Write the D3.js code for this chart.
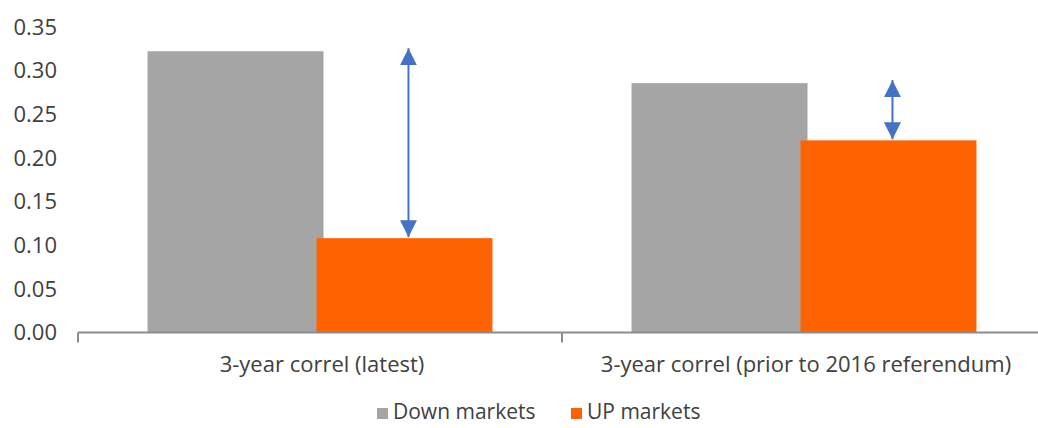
<!DOCTYPE html>
<html><head><meta charset="utf-8">
<script src="https://cdn.jsdelivr.net/npm/d3@7"></script>
<style>
html,body{margin:0;padding:0;background:#fff;}
svg{display:block;}
text{font-family:"Open Sans", sans-serif;fill:#404040;}
</style></head>
<body>
<svg id="chart" width="1038" height="428"></svg>
<script>
const categories = ["3-year correl (latest)", "3-year correl (prior to 2016 referendum)"];
const seriesNames = ["Down markets", "UP markets"];
const downValues = [0.322, 0.2855];
const upValues = [0.108, 0.220];
const yTicks = [0, 0.05, 0.10, 0.15, 0.20, 0.25, 0.30, 0.35];
const colors = ["#A5A5A5", "#FF6200"];

const svg = d3.select("#chart");
const x0 = 78, x1 = 1046, yTop = 26.8, yBot = 332.5;
const fs = "22px";

const x = d3.scaleBand().domain(categories).range([x0, x1]).paddingInner(0).paddingOuter(0);
const y = d3.scaleLinear().domain([0, 0.35]).range([yBot, yTop]);

const band = x.bandwidth();
const barW = band * 0.3636;
const overlap = barW * 0.04;
const groupW = barW * 2 - overlap;

// y axis labels
svg.append("g").selectAll("text").data(yTicks).join("text")
  .attr("x", 57).attr("y", d => y(d)).attr("dy", "0.35em")
  .attr("text-anchor", "end").style("font-size", fs)
  .text(d => d3.format(".2f")(d));

// bars
const data = categories.map((c, i) => ({c, down: downValues[i], up: upValues[i]}));
const g = svg.append("g");
data.forEach(d => {
  const start = x(d.c) + (band - groupW) / 2;
  g.append("rect").attr("x", start).attr("y", y(d.down))
    .attr("width", barW).attr("height", y(0) - y(d.down)).attr("fill", colors[0]);
  g.append("rect").attr("x", start + barW - overlap).attr("y", y(d.up))
    .attr("width", barW).attr("height", y(0) - y(d.up)).attr("fill", colors[1]);
});

// x axis
const ax = svg.append("g").attr("transform", `translate(0,${yBot})`);
ax.append("line").attr("x1", x0).attr("x2", x1).attr("y1", 0).attr("y2", 0)
  .attr("stroke", "#8c8c8c").attr("stroke-width", 2);
const tickPos = [x0, x0 + band, x1];
ax.selectAll("line.tk").data(tickPos).join("line").attr("class", "tk")
  .attr("x1", d => d).attr("x2", d => d).attr("y1", 0).attr("y2", 10)
  .attr("stroke", "#8c8c8c").attr("stroke-width", 2);

svg.append("g").selectAll("text").data(categories).join("text")
  .attr("x", d => x(d) + band / 2 + 2).attr("y", 364).attr("dy", "0.35em")
  .attr("text-anchor", "middle").style("font-size", fs)
  .text(d => d);

// arrows
const defs = svg.append("defs");
defs.append("marker").attr("id", "ah").attr("viewBox", "0 0 10 10")
  .attr("refX", 10).attr("refY", 5).attr("markerWidth", 17).attr("markerHeight", 17)
  .attr("markerUnits", "userSpaceOnUse").attr("orient", "auto-start-reverse")
  .append("path").attr("d", "M0,0 L10,5 L0,10 Z").attr("fill", "#4472C4");
data.forEach(d => {
  const start = x(d.c) + (band - groupW) / 2;
  const cx = start + barW - overlap + barW / 2 + 4;
  svg.append("line").attr("x1", cx).attr("x2", cx)
    .attr("y1", y(d.down) - 3).attr("y2", y(d.up) - 1)
    .attr("stroke", "#4472C4").attr("stroke-width", 2)
    .attr("marker-start", "url(#ah)").attr("marker-end", "url(#ah)");
});

// legend
const legend = svg.append("g");
const legX = [377, 571];
seriesNames.forEach((s, i) => {
  legend.append("rect").attr("x", legX[i]).attr("y", 408).attr("width", 11).attr("height", 11).attr("fill", colors[i]);
  legend.append("text").attr("x", legX[i] + 16).attr("y", 412).attr("dy", "0.35em")
    .style("font-size", "21px").text(s);
});
</script>
</body></html>
